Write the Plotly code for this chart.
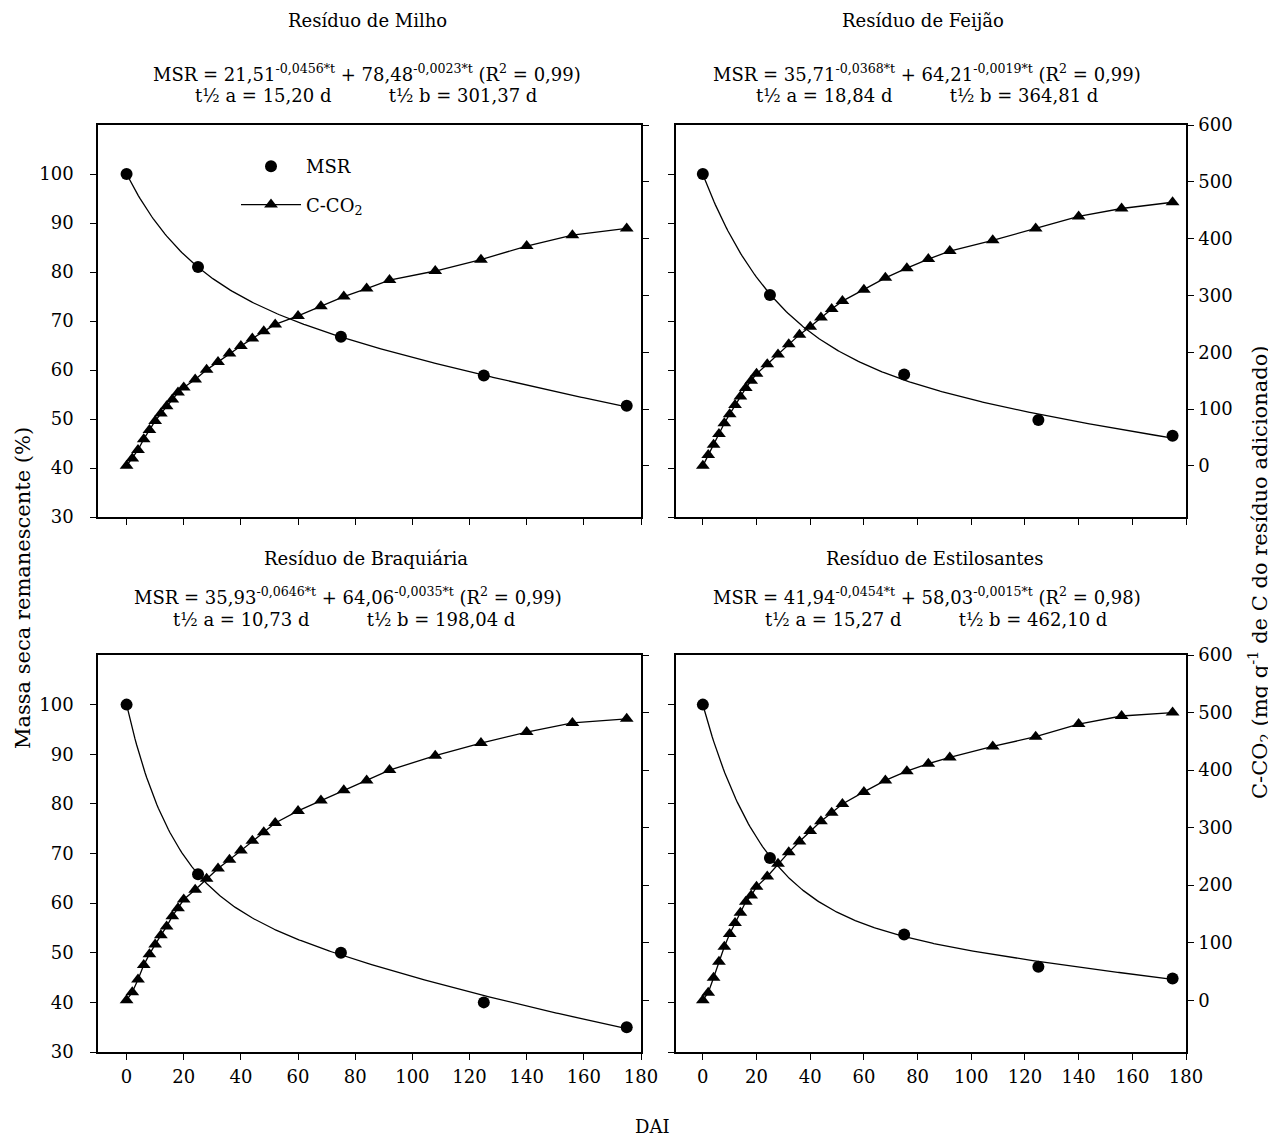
import numpy as np
import plotly.graph_objects as go

# the page adds an 8 px body margin: the figure is sized so that it fills the window
PAGE_W, PAGE_H = 1276, 1138
OFF = 8
W, H = PAGE_W - OFF, PAGE_H - OFF

# ---------------- data ----------------
dai_msr = [0, 25, 75, 125, 175]
msr_milho = [100, 81.0, 66.8, 58.9, 52.7]
msr_feijao = [100, 75.3, 59.1, 49.8, 46.6]
msr_braquiaria = [100, 65.8, 50.0, 40.0, 35.0]
msr_estilosantes = [100, 69.1, 53.7, 47.2, 44.8]

dai_co2 = [0, 2, 4, 6, 8, 10, 12, 14, 16, 18, 20, 24, 28, 32, 36, 40, 44, 48, 52,
           60, 68, 76, 84, 92, 108, 124, 140, 156, 175]
co2_milho = [0, 13, 28, 47, 63, 79, 92, 105, 117, 129, 138, 152, 169, 183, 198, 211, 224, 237, 249,
             264, 281, 298, 312, 327, 343, 363, 387, 406, 418]
co2_feijao = [0, 19, 37, 56, 75, 91, 107, 122, 137, 150, 162, 179, 196, 214, 231, 245, 261, 276, 290,
              310, 331, 348, 364, 378, 397, 418, 439, 453, 464]
co2_braquiaria = [0, 14, 36, 61, 80, 97, 113, 128, 146, 160, 175, 192, 211, 229, 244, 260, 277, 292, 308,
                  329, 347, 365, 382, 400, 425, 447, 466, 482, 489]
co2_estilosantes = [0, 13, 39, 67, 93, 115, 134, 152, 171, 182, 197, 215, 237, 257, 276, 294, 311, 326, 341,
                    362, 382, 398, 411, 422, 441, 458, 480, 494, 500]

# fitted model parameters as printed on the chart: MSR = a*exp(-k1 t) + b*exp(-k2 t)
fit_milho = [21.51, 0.0456, 78.48, 0.0023]
fit_feijao = [35.71, 0.0368, 64.21, 0.0019]
fit_braquiaria = [35.93, 0.0646, 64.06, 0.0035]
fit_estilosantes = [41.94, 0.0454, 58.03, 0.0015]

titles = ["Resíduo de Milho", "Resíduo de Feijão", "Resíduo de Braquiária", "Resíduo de Estilosantes"]
equations = [
    "MSR = 21,51<sup>-0,0456*t</sup> + 78,48<sup>-0,0023*t</sup> (R<sup>2</sup> = 0,99)",
    "MSR = 35,71<sup>-0,0368*t</sup> + 64,21<sup>-0,0019*t</sup> (R<sup>2</sup> = 0,99)",
    "MSR = 35,93<sup>-0,0646*t</sup> + 64,06<sup>-0,0035*t</sup> (R<sup>2</sup> = 0,99)",
    "MSR = 41,94<sup>-0,0454*t</sup> + 58,03<sup>-0,0015*t</sup> (R<sup>2</sup> = 0,98)",
]
halflives = [
    "t½ a = 15,20 d          t½ b = 301,37 d",
    "t½ a = 18,84 d          t½ b = 364,81 d",
    "t½ a = 10,73 d          t½ b = 198,04 d",
    "t½ a = 15,27 d          t½ b = 462,10 d",
]

x_ticks = list(range(0, 181, 20))
msr_ticks = list(range(30, 101, 10))
co2_ticks = list(range(0, 601, 100))

# ---------------- layout helpers ----------------
FONT = "DejaVu Serif"
FS = 18
FS_AXIS = 21


def px(x):
    return (x - OFF) / W


def py(y):
    return 1 - (y - OFF) / H


panels = [
    # (msr, co2, fit, xdomain px, ydomain px (top,bottom), is_left, is_bottom)
    (msr_milho, co2_milho, fit_milho, (98, 641), (125, 517), True, False),
    (msr_feijao, co2_feijao, fit_feijao, (676, 1186), (125, 517), False, False),
    (msr_braquiaria, co2_braquiaria, fit_braquiaria, (98, 641), (655, 1052), True, True),
    (msr_estilosantes, co2_estilosantes, fit_estilosantes, (676, 1186), (655, 1052), False, True),
]

fig = go.Figure()
layout = {}
t_fit = np.linspace(0, 175, 300)

for i, (msr, co2, fit, xd, yd, is_left, is_bottom) in enumerate(panels):
    n = i + 1
    xa = "x" if n == 1 else f"x{n}"
    ya_l = "y" if n == 1 else f"y{2 * n - 1}"
    ya_r = f"y{2 * n}"
    a, k1, b, k2 = fit
    curve = a * np.exp(-k1 * t_fit) + b * np.exp(-k2 * t_fit)

    fig.add_trace(go.Scatter(x=t_fit, y=curve, mode="lines", line=dict(color="black", width=1.3),
                             xaxis=xa, yaxis=ya_l, showlegend=False, hoverinfo="skip"))
    fig.add_trace(go.Scatter(x=dai_msr, y=msr, mode="markers", name="MSR",
                             marker=dict(symbol="circle", size=12, color="black"),
                             xaxis=xa, yaxis=ya_l, showlegend=(n == 1), legendgroup="a"))
    fig.add_trace(go.Scatter(x=dai_co2, y=co2, mode="lines+markers", name="C-CO<sub>2</sub>",
                             line=dict(color="black", width=1.3),
                             marker=dict(symbol="triangle-up", size=12, color="black"),
                             xaxis=xa, yaxis=ya_r, showlegend=(n == 1), legendgroup="b"))

    xkey = "xaxis" if n == 1 else f"xaxis{n}"
    ylkey = "yaxis" if n == 1 else f"yaxis{2 * n - 1}"
    yrkey = f"yaxis{2 * n}"
    common = dict(showline=True, linecolor="black", linewidth=1.5, ticks="outside", ticklen=6,
                  tickwidth=1, tickcolor="black", showgrid=False, zeroline=False, automargin=False,
                  tickfont=dict(family=FONT, size=FS, color="black"))
    layout[xkey] = dict(common, domain=[px(xd[0]), px(xd[1])], range=[-10, 180], tickvals=x_ticks,
                        anchor=ya_l, mirror=True, showticklabels=is_bottom, ticklabelstandoff=2)
    layout[ylkey] = dict(common, domain=[py(yd[1]), py(yd[0])], range=[30, 110], tickvals=msr_ticks,
                         anchor=xa, side="left", showticklabels=is_left, ticklabelstandoff=13)
    layout[yrkey] = dict(common, range=[-90, 600], tickvals=co2_ticks, anchor=xa, overlaying=ya_l,
                         side="right", showticklabels=not is_left, ticklabelstandoff=1)

ann = []
title_pos = [  # (title x, title y, eq x, eq y, t½ x, t½ y)
    (367, 21, 367, 73, 366, 96),
    (923, 21, 927, 73, 927, 96),
    (366, 558, 348, 596, 344, 619),
    (934, 558, 927, 596, 936, 619),
]
for i in range(4):
    tx, ty, ex, ey, hx, hy = title_pos[i]
    ann.append(dict(x=px(tx), y=py(ty), text=titles[i], font_size=FS))
    ann.append(dict(x=px(ex), y=py(ey), text=equations[i], font_size=FS))
    ann.append(dict(x=px(hx), y=py(hy), text=halflives[i], font_size=FS))
ann.append(dict(x=px(653), y=py(1126), text="DAI", font_size=FS))
ann.append(dict(x=px(23), y=py(588), text="Massa seca remanescente (%)", textangle=-90, font_size=FS_AXIS))
ann.append(dict(x=px(1259), y=py(572),
                text="C-CO<sub>2</sub> (mg g<sup>-1</sup> de C do resíduo adicionado)", textangle=-90,
                font_size=FS_AXIS))
for a_ in ann:
    size = a_.pop("font_size")
    a_.update(xref="paper", yref="paper", showarrow=False, xanchor="center", yanchor="middle",
              font=dict(family=FONT, size=size, color="black"))

fig.update_layout(
    width=W, height=H, margin=dict(l=0, r=0, t=0, b=0, autoexpand=False),
    paper_bgcolor="white", plot_bgcolor="white",
    font=dict(family=FONT, size=FS, color="black"),
    annotations=ann,
    showlegend=True,
    legend=dict(x=px(236), y=py(148), xanchor="left", yanchor="top", bgcolor="rgba(0,0,0,0)",
                font=dict(family=FONT, size=FS, color="black"), tracegroupgap=12, itemwidth=60),
    **layout,
)

fig.write_html("out.html")
